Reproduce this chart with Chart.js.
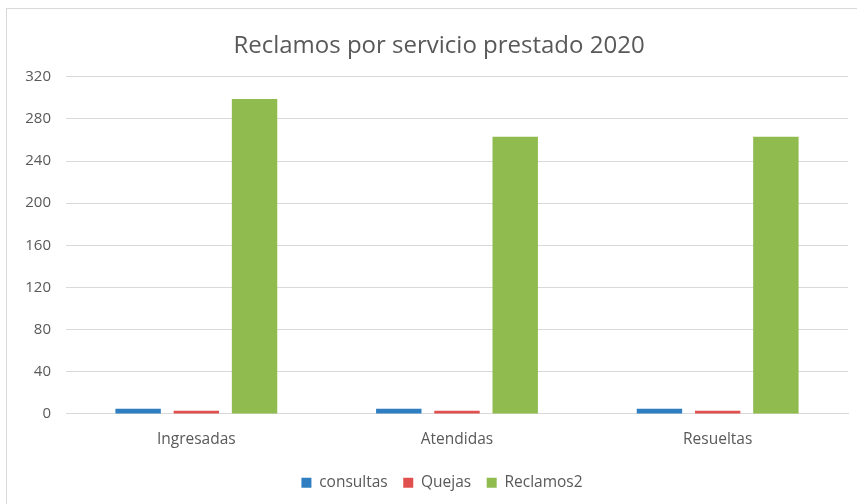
<!DOCTYPE html>
<html>
<head>
<meta charset="utf-8">
<script src="https://cdn.jsdelivr.net/npm/chart.js@4.4.1/dist/chart.umd.min.js"></script>
<style>
  html, body { margin: 0; padding: 0; background: #fff; }
  #wrap { position: absolute; left: 0; top: 0; width: 857px; height: 504px; }
  #frame { position: absolute; left: 6px; top: 8px; width: 860px; height: 510px;
           border: 1px solid #d9d9d9; box-sizing: border-box; }
  canvas { position: absolute; left: 0; top: 0; }
</style>
</head>
<body>
<div id="wrap">
  <div id="frame"></div>
  <canvas id="c" width="857" height="504"></canvas>
</div>
<script>
var categories = ['Ingresadas', 'Atendidas', 'Resueltas'];
var consultas = [5, 5, 5];
var quejas = [3, 3, 3];
var reclamos2 = [299, 263, 263];
var yTicks = [0, 40, 80, 120, 160, 200, 240, 280, 320];

var FONT = 'Open Sans';
var GREY = '#595959';

// nudge title and legend to the right, like the original
var shiftBoxes = {
  id: 'shiftBoxes',
  afterLayout: function(chart) {
    chart.legend.left += 9; chart.legend.right += 9;
    chart.titleBlock.left += 6; chart.titleBlock.right += 6;
  }
};

new Chart(document.getElementById('c'), {
  type: 'bar',
  data: {
    labels: categories,
    datasets: [
      { label: 'consultas', data: consultas, backgroundColor: '#2e7ec1' },
      { label: 'Quejas', data: quejas, backgroundColor: '#e0504f' },
      { label: 'Reclamos2', data: reclamos2, backgroundColor: '#8fbb4f' }
    ]
  },
  options: {
    responsive: false,
    animation: false,
    layout: { padding: { left: 18, right: 9, top: 24, bottom: 3.5 } },
    datasets: { bar: { categoryPercentage: 0.67, barPercentage: 0.78 } },
    plugins: {
      title: {
        display: true, text: 'Reclamos por servicio prestado 2020',
        color: GREY, font: { family: FONT, size: 24, weight: 'normal' },
        padding: { top: 8, bottom: 16 }
      },
      legend: {
        position: 'bottom',
        labels: { color: GREY, font: { family: FONT, size: 15.5 }, boxWidth: 10, boxHeight: 10, padding: 15.5 }
      },
      tooltip: { enabled: false }
    },
    scales: {
      x: {
        afterFit: function(ax) { ax.height += 3; },
        grid: { display: false },
        border: { color: '#d9d9d9', width: 1 },
        ticks: { color: GREY, font: { family: FONT, size: 15.5 }, padding: 8 }
      },
      y: {
        min: 0, max: 320,
        afterBuildTicks: function(ax) { ax.ticks = yTicks.map(function(v){ return { value: v }; }); },
        afterFit: function(ax) { ax.width = 48; },
        grid: { color: '#d9d9d9', drawTicks: false },
        border: { display: false },
        ticks: { color: GREY, font: { family: FONT, size: 15 }, padding: 15 }
      }
    }
  },
  plugins: [shiftBoxes]
});
</script>
</body>
</html>
